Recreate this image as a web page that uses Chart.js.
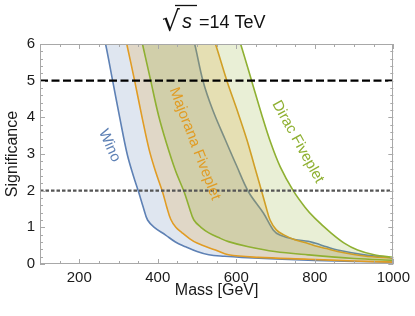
<!DOCTYPE html>
<html>
<head>
<meta charset="utf-8">
<script src="https://cdn.jsdelivr.net/npm/chart.js@4.4.0/dist/chart.umd.min.js"></script>
<style>
  html, body { margin: 0; padding: 0; background: #fff; }
</style>
</head>
<body>
<canvas id="myChart" width="415" height="316"></canvas>
<script>
// mass in GeV, significance. first point of each curve sits just above the frame
const winoLowMass = [255, 267, 285, 303, 322, 338, 351, 363, 374, 391, 420, 445, 471, 500, 530, 570, 614, 700, 800, 900, 1000];
const winoLowSig  = [6.5, 6.0, 5.0, 4.0, 3.0, 2.4, 1.97, 1.55, 1.2, 1.0, 0.79, 0.6, 0.47, 0.34, 0.25, 0.21, 0.18, 0.14, 0.1, 0.07, 0.05];
const winoUpMass  = [480, 494, 515, 540, 572, 600, 631, 669, 694, 711, 749, 783, 800, 830, 858, 926, 1000];
const winoUpSig   = [6.5, 6.0, 5.0, 4.2, 3.39, 2.7, 1.97, 1.39, 0.93, 0.79, 0.67, 0.62, 0.57, 0.47, 0.38, 0.25, 0.16];

const majLowMass = [310, 321, 341, 360, 378, 395, 412, 423, 433, 446, 462, 480, 500, 547, 580, 656, 783, 900, 1000];
const majLowSig  = [6.5, 6.0, 5.0, 4.0, 3.12, 2.5, 1.97, 1.55, 1.22, 1.0, 0.85, 0.7, 0.57, 0.38, 0.25, 0.18, 0.13, 0.08, 0.05];
const majUpMass  = [530, 547, 576, 602, 627, 646, 665, 676, 686, 702, 720, 749, 783, 800, 830, 858, 926, 1000];
const majUpSig   = [6.5, 6.0, 5.0, 4.2, 3.39, 2.68, 1.97, 1.55, 1.2, 0.93, 0.8, 0.66, 0.56, 0.5, 0.42, 0.34, 0.22, 0.16];

const dirLowMass = [350, 361, 382, 402, 422, 445, 467, 480, 492, 510, 530, 555, 580, 631, 698, 783, 900, 1000];
const dirLowSig  = [6.5, 6.0, 5.0, 4.05, 3.3, 2.55, 1.97, 1.55, 1.2, 1.0, 0.85, 0.72, 0.61, 0.47, 0.34, 0.25, 0.15, 0.1];
const dirUpMass  = [595, 611, 639, 664, 688, 712, 745, 775, 800, 841, 875, 909, 951, 1000];
const dirUpSig   = [6.5, 6.0, 5.0, 4.1, 3.3, 2.65, 2.0, 1.55, 1.25, 0.85, 0.57, 0.38, 0.25, 0.18];

const massTicks = [200, 400, 600, 800, 1000];
const sigTicks = [0, 1, 2, 3, 4, 5, 6];
const discovery = 5;
const evidence = 2;

const bandNames = ['Wino', 'Majorana Fiveplet', 'Dirac Fiveplet'];
// where each name sits (mass, significance) and its slant in degrees
const labelMass = [277, 494, 757];
const labelSig = [3.23, 3.28, 3.33];
const labelAngle = [66, 69, 61];

const blue = '#5e81b5', orange = '#e19c24', green = '#8fb032';
const colors = [blue, orange, green];

function pts(m, s) {
  return m.map((x, i) => ({x: x, y: s[i]}));
}
// upper edge gets the lower edge's first point so the band closes above the frame
function upper(m, s, lowM, lowS) {
  return [{x: lowM[0], y: lowS[0]}].concat(pts(m, s));
}

function curve(label, data, color, order, fillTarget, fillColor) {
  return {
    label: label,
    data: data,
    borderColor: color,
    borderWidth: 1.6,
    pointRadius: 0,
    tension: 0.35,
    order: order,
    fill: fillTarget === undefined ? false : {target: fillTarget},
    backgroundColor: fillColor || 'transparent'
  };
}

const titlePlugin = {
  id: 'sqrtTitle',
  afterDraw(chart) {
    const ctx = chart.ctx;
    ctx.save();
    ctx.fillStyle = '#111';
    ctx.strokeStyle = '#111';
    ctx.textBaseline = 'alphabetic';
    ctx.font = '28px "DejaVu Sans"';
    ctx.fillText('\u221A', 162, 31);
    ctx.font = 'italic 20px "Liberation Sans"';
    ctx.fillText('s', 182, 28);
    ctx.lineWidth = 1.3;
    ctx.beginPath();
    ctx.moveTo(175, 5.5);
    ctx.lineTo(197, 5.5);
    ctx.stroke();
    ctx.font = '18px "Liberation Sans"';
    ctx.fillText('=14 TeV', 199, 28);
    ctx.restore();
  }
};

const framePlugin = {
  id: 'frame',
  afterDatasetsDraw(chart) {
    const {ctx, chartArea: a, scales: {x, y}} = chart;
    ctx.save();
    ctx.strokeStyle = '#a8a8a8';
    ctx.lineWidth = 1;
    ctx.beginPath();
    for (let m = 100; m <= 1000; m += 50) {
      const px = Math.round(x.getPixelForValue(m)) + 0.5;
      const len = m % 200 === 0 ? 5 : 3;
      ctx.moveTo(px, a.bottom); ctx.lineTo(px, a.bottom - len);
      ctx.moveTo(px, a.top); ctx.lineTo(px, a.top + len);
    }
    for (let k = 0; k <= 30; k++) {
      const py = Math.round(y.getPixelForValue(k / 5)) + 0.5;
      const len = k % 5 === 0 ? 5 : 3;
      ctx.moveTo(a.left, py); ctx.lineTo(a.left + len, py);
      ctx.moveTo(a.right, py); ctx.lineTo(a.right - len, py);
    }
    ctx.stroke();
    ctx.strokeRect(Math.round(a.left) + 0.5, Math.round(a.top) + 0.5, Math.round(a.width) - 1, Math.round(a.height) - 1);

    // band names along the curves
    ctx.font = '15px "Liberation Sans"';
    ctx.textAlign = 'center';
    ctx.textBaseline = 'middle';
    bandNames.forEach((name, i) => {
      ctx.save();
      ctx.translate(x.getPixelForValue(labelMass[i]), y.getPixelForValue(labelSig[i]));
      ctx.rotate(labelAngle[i] * Math.PI / 180);
      ctx.fillStyle = colors[i];
      ctx.fillText(name, 0, 0);
      ctx.restore();
    });
    ctx.restore();
  }
};

const ctx = document.getElementById('myChart');

new Chart(ctx, {
  type: 'line',
  data: {
    datasets: [
      curve('Wino', pts(winoLowMass, winoLowSig), blue, 6, 1, 'rgba(94,129,181,0.2)'),
      curve('Wino upper', upper(winoUpMass, winoUpSig, winoLowMass, winoLowSig), blue, 5),
      curve('Majorana Fiveplet', pts(majLowMass, majLowSig), orange, 4, 3, 'rgba(225,156,36,0.2)'),
      curve('Majorana upper', upper(majUpMass, majUpSig, majLowMass, majLowSig), orange, 3),
      curve('Dirac Fiveplet', pts(dirLowMass, dirLowSig), green, 2, 5, 'rgba(143,176,50,0.2)'),
      curve('Dirac upper', upper(dirUpMass, dirUpSig, dirLowMass, dirLowSig), green, 1),
      {
        label: '5 sigma',
        data: [{x: 100, y: discovery}, {x: 1000, y: discovery}],
        borderColor: '#000',
        borderWidth: 2.3,
        borderDash: [8, 3.5],
        pointRadius: 0,
        fill: false,
        order: 0
      },
      {
        label: '2 sigma',
        data: [{x: 100, y: evidence}, {x: 1000, y: evidence}],
        borderColor: '#555',
        borderWidth: 2.2,
        borderDash: [3.5, 2],
        pointRadius: 0,
        fill: false,
        order: 0
      }
    ]
  },
  options: {
    responsive: false,
    animation: false,
    devicePixelRatio: 1,
    layout: {padding: {top: 44, right: 19, left: 0, bottom: 0}},
    plugins: {
      legend: {display: false},
      tooltip: {enabled: false},
      filler: {propagate: false}
    },
    scales: {
      x: {
        type: 'linear',
        min: 100,
        max: 1000,
        afterBuildTicks: s => { s.ticks = massTicks.map(v => ({value: v})); },
        afterFit: s => { s.height = 52; },
        grid: {display: false, drawTicks: false},
        border: {display: false},
        ticks: {font: {family: 'Liberation Sans', size: 15}, color: '#1a1a1a', padding: 5, maxRotation: 0, callback: v => String(v)},
        title: {display: true, text: 'Mass [GeV]', font: {family: 'Liberation Sans', size: 16}, color: '#1a1a1a', padding: {top: 0, bottom: 16}}
      },
      y: {
        min: 0,
        max: 6,
        afterBuildTicks: s => { s.ticks = sigTicks.map(v => ({value: v})); },
        afterFit: s => { s.width = 40; },
        grid: {display: false, drawTicks: false},
        border: {display: false},
        ticks: {font: {family: 'Liberation Sans', size: 15}, color: '#1a1a1a', padding: 5, callback: v => String(v)},
        title: {display: true, text: 'Significance', font: {family: 'Liberation Sans', size: 16}, color: '#1a1a1a', padding: {top: 3, bottom: 0}}
      }
    }
  },
  plugins: [titlePlugin, framePlugin]
});
</script>
</body>
</html>
